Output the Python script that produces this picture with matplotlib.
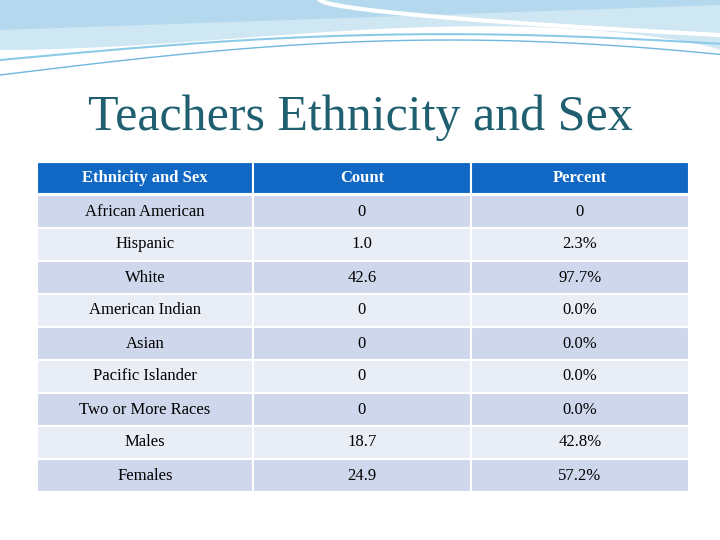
import numpy as np
import matplotlib.pyplot as plt
from matplotlib.patches import Rectangle

headers = ["Ethnicity and Sex", "Count", "Percent"]
groups = ["African American", "Hispanic", "White", "American Indian", "Asian",
          "Pacific Islander", "Two or More Races", "Males", "Females"]
counts = ["0", "1.0", "42.6", "0", "0", "0", "0", "18.7", "24.9"]
percents = ["0", "2.3%", "97.7%", "0.0%", "0.0%", "0.0%", "0.0%", "42.8%", "57.2%"]

plt.rcParams['font.family'] = ['Liberation Serif', 'DejaVu Serif']

fig = plt.figure(figsize=(7.2, 5.4), dpi=100)
ax = fig.add_axes([0, 0, 1, 1])
ax.set_xlim(0, 720)
ax.set_ylim(540, 0)
ax.axis('off')

# top decoration swooshes
x = np.linspace(0, 720, 300)
ax.fill_between(x, 0, 50 - 40 * np.sin(np.pi * x / 720) ** 0.8 * (x / 720), color='#cfe6f3', lw=0)
ax.fill_between(x, 0, 30 - 25 * (x / 720), color='#a9d4ec', lw=0, alpha=0.7)
ax.plot(x, 75 - 35 * np.sin(np.pi * x / 900), color='#6fb8de', lw=1)
ax.plot(x, 60 - 20 * np.sin(np.pi * x / 800) - 10 * (x / 720), color='#8ccbe8', lw=1.5)
xs = np.linspace(320, 720, 100)
ax.plot(xs, 0 + 35 * ((xs - 320) / 400) ** 0.6, color='white', lw=3)

ax.text(360, 118, "Teachers Ethnicity and Sex", ha='center', va='center',
        fontsize=36, color='#1f5f70')

col_edges = [37, 253, 471, 689]
top, row_h = 162, 33
fill_a, fill_b = '#cfd7ec', '#e9edf6'

for c in range(3):
    x0, x1 = col_edges[c], col_edges[c + 1]
    ax.add_patch(Rectangle((x0, top), x1 - x0, row_h - 1, facecolor='#1068c4',
                           edgecolor='white', lw=1.5))
    ax.text((x0 + x1) / 2, top + row_h / 2, headers[c], ha='center', va='center',
            fontsize=12, color='white', fontweight='bold')

for r, row in enumerate(zip(groups, counts, percents)):
    y0 = top + row_h * (r + 1)
    for c, val in enumerate(row):
        x0, x1 = col_edges[c], col_edges[c + 1]
        ax.add_patch(Rectangle((x0, y0), x1 - x0, row_h, facecolor=fill_a if r % 2 == 0 else fill_b,
                               edgecolor='white', lw=1.5))
        ax.text((x0 + x1) / 2, y0 + row_h / 2, val, ha='center', va='center',
                fontsize=12, color='black')

fig.savefig('out.png', dpi=100)
